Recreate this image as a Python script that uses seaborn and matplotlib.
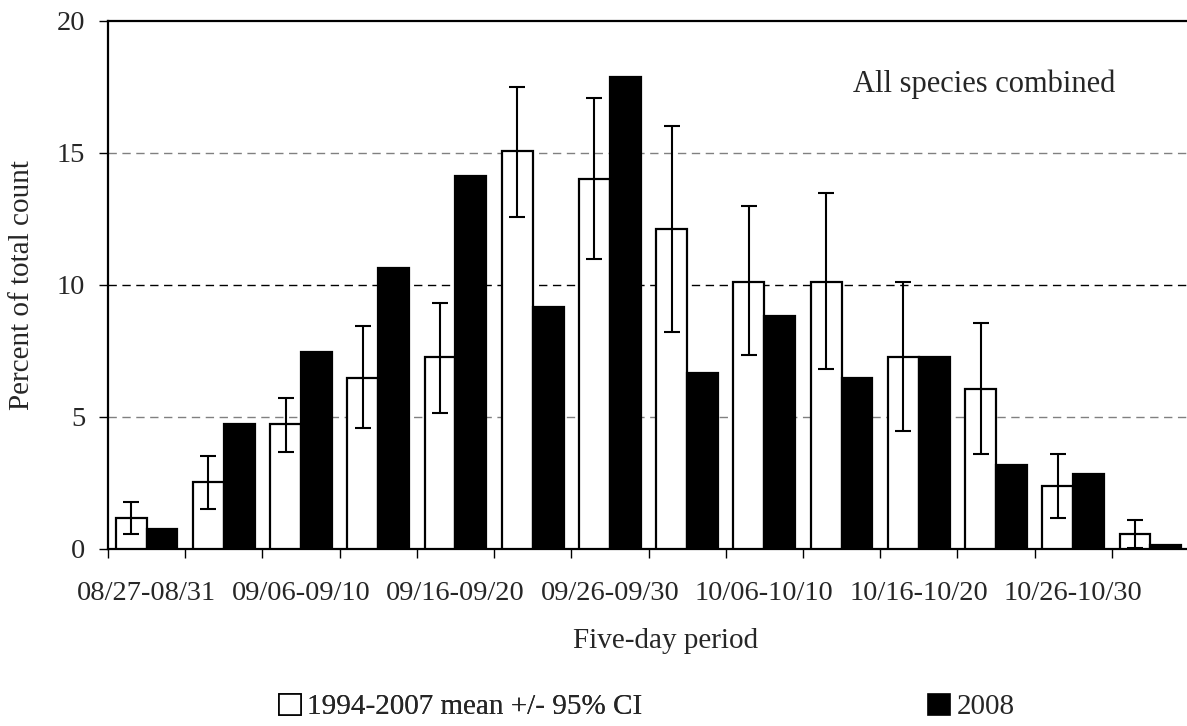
import matplotlib
matplotlib.use("Agg")
import matplotlib.pyplot as plt
from matplotlib.patches import Patch
from matplotlib.ticker import FixedLocator
import numpy as np
import pandas as pd
import seaborn as sns

periods = ["08/27-08/31", "09/01-09/05", "09/06-09/10", "09/11-09/15",
           "09/16-09/20", "09/21-09/25", "09/26-09/30", "10/01-10/05",
           "10/06-10/10", "10/11-10/15", "10/16-10/20", "10/21-10/25",
           "10/26-10/30", "10/31-11/04"]
mean_label = "1994-2007 mean +/- 95% CI"
year_label = "2008"
mean_vals = [1.18, 2.55, 4.73, 6.48, 7.25, 15.05, 14.0, 12.13, 10.1, 10.1, 7.25, 6.04, 2.38, 0.56]
ci_low = [0.58, 1.53, 3.67, 4.57, 5.16, 12.55, 10.99, 8.2, 7.33, 6.82, 4.47, 3.59, 1.17, 0.04]
ci_high = [1.78, 3.51, 5.70, 8.46, 9.32, 17.49, 17.06, 16.0, 12.97, 13.48, 10.1, 8.54, 3.59, 1.10]
vals_2008 = [0.76, 4.74, 7.44, 10.65, 14.12, 9.17, 17.86, 6.65, 8.83, 6.48, 7.25, 3.18, 2.83, 0.15]
y_ticks = [0, 5, 10, 15, 20]

sns.set_style("white")
plt.rcParams["font.family"] = ["Liberation Serif", "DejaVu Serif"]

TICK_FS = 20.5
LAB_FS = 21
NOTE_FS = 22

W, H = 1187, 726
fig = plt.figure(figsize=(W / 100, H / 100), dpi=100)
ax = fig.add_axes([108 / W, (H - 549) / H, 1081 / W, 528.3 / H])

df = pd.DataFrame({
    "period": periods * 2,
    "series": [mean_label] * len(periods) + [year_label] * len(periods),
    "value": mean_vals + vals_2008,
})

sns.barplot(data=df, x="period", y="value", hue="series", order=periods,
            hue_order=[mean_label, year_label],
            palette={mean_label: "white", year_label: "black"},
            edgecolor="black", linewidth=1.6, width=0.8, errorbar=None,
            legend=False, ax=ax, zorder=3)

# error bars on the mean bars
xs = [p.get_x() + p.get_width() / 2 for p in ax.containers[0].patches]
m = np.array(mean_vals)
yerr = np.vstack([m - np.array(ci_low), np.array(ci_high) - m])
ax.errorbar(xs, m, yerr=yerr, fmt="none", ecolor="black", elinewidth=1.5,
            capsize=5.5, capthick=1.5, zorder=4)

ax.set_xlim(-0.5, len(periods) - 0.5)
ax.set_ylim(0, 20)
ax.set_yticks(y_ticks)
ax.set_yticklabels([str(t) for t in y_ticks], fontsize=TICK_FS)

# major x ticks: labels on every other period, no tick mark
idx = list(range(0, len(periods), 2))
ax.set_xticks(idx)
ax.set_xticklabels([periods[i] for i in idx], fontsize=TICK_FS)
ax.tick_params(axis="x", which="major", length=0, pad=23)
ax.xaxis.set_minor_locator(FixedLocator(np.arange(-0.5, len(periods), 1.0)))
ax.tick_params(axis="x", which="minor", length=6.5, width=1, color="black",
               direction="out", bottom=True)
ax.tick_params(axis="y", which="major", length=6.5, width=1, color="black",
               direction="out", left=True, pad=10)

# dashed reference grid
for yv, col in [(5, "#808080"), (10, "black"), (15, "#808080")]:
    ax.axhline(yv, color=col, lw=1.0, ls=(0, (6, 4)), zorder=1)

for s in ["left", "bottom", "top", "right"]:
    ax.spines[s].set_visible(True)
    ax.spines[s].set_color("black")
    ax.spines[s].set_linewidth(1.6)

ax.set_xlabel("Five-day period", fontsize=LAB_FS)
ax.set_ylabel("Percent of total count", fontsize=LAB_FS)
ax.xaxis.set_label_coords((666 - 108) / 1081, (549 - 628) / 528.3)
ax.yaxis.set_label_coords((35 - 108) / 1081, 0.5)

ax.text((853 - 108) / 1081, (549 - 91.7) / 528.3, "All species combined",
        transform=ax.transAxes, fontsize=NOTE_FS, ha="left", va="baseline")

h1 = Patch(facecolor="white", edgecolor="black", linewidth=1.2)
h2 = Patch(facecolor="black", edgecolor="black", linewidth=1.2)
common = dict(frameon=False, fontsize=LAB_FS, handlelength=0.75, handleheight=0.75,
              handletextpad=0.22, borderpad=0, borderaxespad=0, loc="center left")
leg1 = fig.legend(handles=[h1], labels=[mean_label],
                  bbox_to_anchor=(279 / W, (H - 707) / H), **common)
fig.add_artist(leg1)
fig.legend(handles=[h2], labels=[year_label],
           bbox_to_anchor=(928 / W, (H - 707) / H), **common)

fig.savefig("out.png", dpi=100)
